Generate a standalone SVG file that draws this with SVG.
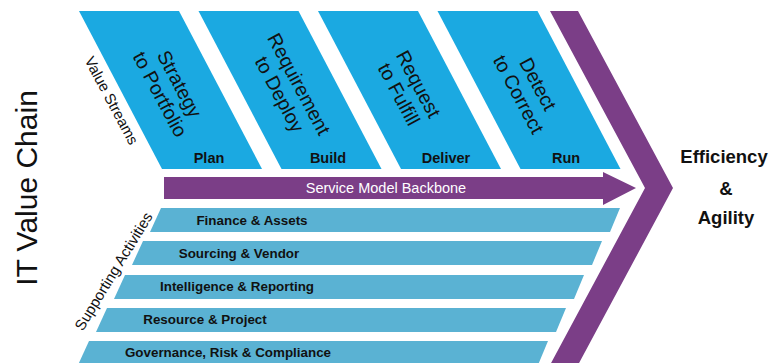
<svg xmlns="http://www.w3.org/2000/svg" width="772" height="363" viewBox="0 0 772 363">
  <style>
    .stream { fill: #1ba9e1; }
    .support { fill: #5ab2d3; }
    .purple { fill: #7b3e87; }
    text { font-family: "Liberation Sans", Arial, sans-serif; fill: #111; }
    .title { font-size: 30px; }
    .side { font-size: 15px; }
    .vs { font-size: 19.5px; text-anchor: middle; }
    .phase { font-size: 14.5px; font-weight: bold; text-anchor: middle; }
    .act { font-size: 13.4px; font-weight: bold; text-anchor: middle; }
    .backbone { font-size: 14.5px; fill: #ffffff; text-anchor: middle; }
    .goal { font-size: 18.5px; font-weight: bold; text-anchor: middle; }
  </style>
  <rect width="772" height="363" fill="#ffffff"/>

  <!-- chain title -->
  <g id="title">
    <text class="title" text-anchor="middle" transform="translate(37,188) rotate(-90)">IT Value Chain</text>
  </g>

  <!-- outer chevron -->
  <g id="chevron">
    <polygon class="purple" points="550,11 578,11 673,188 578,365 550,365 645,188"/>
  </g>

  <!-- value streams -->
  <g id="value-streams-label">
    <text class="side" text-anchor="middle" transform="translate(107,103) rotate(62)">Value Streams</text>
  </g>
  <g id="stream-plan">
    <polygon class="stream" points="79,11 179,11 262,169 162,169"/>
    <text class="vs" transform="translate(170,89) rotate(62)"><tspan x="0" y="-4">Strategy</tspan><tspan x="0" y="18">to Portfolio</tspan></text>
    <text class="phase" x="209" y="163">Plan</text>
  </g>
  <g id="stream-build">
    <polygon class="stream" points="198.5,11 298.5,11 381.5,169 281.5,169"/>
    <text class="vs" transform="translate(289.5,89) rotate(62)"><tspan x="0" y="-4">Requirement</tspan><tspan x="0" y="18">to Deploy</tspan></text>
    <text class="phase" x="328" y="163">Build</text>
  </g>
  <g id="stream-deliver">
    <polygon class="stream" points="318,11 418,11 501,169 401,169"/>
    <text class="vs" transform="translate(409,89) rotate(62)"><tspan x="0" y="-4">Request</tspan><tspan x="0" y="18">to Fulfill</tspan></text>
    <text class="phase" x="446" y="163">Deliver</text>
  </g>
  <g id="stream-run">
    <polygon class="stream" points="437.5,11 537.5,11 620.5,169 520.5,169"/>
    <text class="vs" transform="translate(528.5,89) rotate(62)"><tspan x="0" y="-4">Detect</tspan><tspan x="0" y="18">to Correct</tspan></text>
    <text class="phase" x="566" y="163">Run</text>
  </g>

  <!-- service model backbone -->
  <g id="backbone">
    <path class="purple" d="M164,177 H603 V172 L636,188 L603,205 V199 H164 Z"/>
    <text class="backbone" x="386" y="193">Service Model Backbone</text>
  </g>

  <!-- supporting activities -->
  <g id="supporting-label">
    <text class="side" text-anchor="middle" transform="translate(118,274) rotate(-58.6)">Supporting Activities</text>
  </g>
  <g id="act-finance">
    <polygon class="support" points="161,208 620,208 610,232 150,232"/>
    <text class="act" x="252" y="225">Finance &amp; Assets</text>
  </g>
  <g id="act-sourcing">
    <polygon class="support" points="143,241 602,241 592,265 132,265"/>
    <text class="act" x="239" y="258">Sourcing &amp; Vendor</text>
  </g>
  <g id="act-intelligence">
    <polygon class="support" points="125,275 584,275 574,299 114,299"/>
    <text class="act" x="237" y="291">Intelligence &amp; Reporting</text>
  </g>
  <g id="act-resource">
    <polygon class="support" points="107,308 566,308 556,332 96,332"/>
    <text class="act" x="205" y="324">Resource &amp; Project</text>
  </g>
  <g id="act-governance">
    <polygon class="support" points="89,341 548,341 538,365 78,365"/>
    <text class="act" x="228" y="357">Governance, Risk &amp; Compliance</text>
  </g>

  <!-- outcome -->
  <g id="outcome">
    <text class="goal" x="724" y="163">Efficiency</text>
    <text class="goal" x="726" y="195">&amp;</text>
    <text class="goal" x="726" y="224">Agility</text>
  </g>
</svg>
